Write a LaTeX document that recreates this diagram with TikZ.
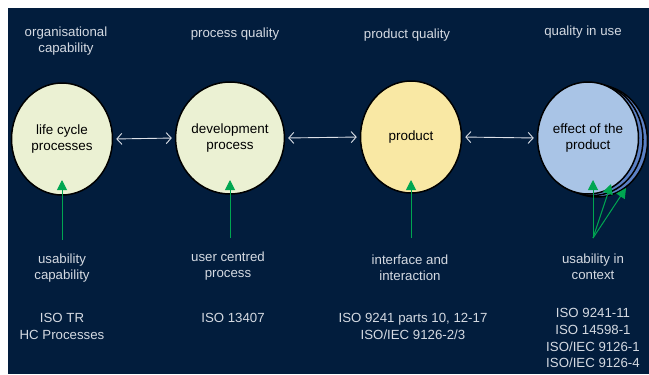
\documentclass[tikz,border=0pt]{standalone}
\usepackage{fontspec}
\setmainfont{Liberation Sans}
\usetikzlibrary{shapes.geometric,arrows.meta}
\definecolor{navy}{HTML}{021D3D}
\definecolor{lbl}{HTML}{D5DAE2}
\definecolor{pgreen}{HTML}{EBF1D3}
\definecolor{pyellow}{HTML}{F9E8A4}
\definecolor{pblue}{HTML}{A9C4E6}
\definecolor{dblue}{HTML}{5B80C4}
\definecolor{ggreen}{HTML}{00A651}
\definecolor{warr}{HTML}{DCE0E8}
\begin{document}
\begin{tikzpicture}[x=1bp,y=-1bp,
  blob/.style={ellipse,draw=black,line width=1.5bp,minimum width=101bp,minimum height=112bp,inner sep=0pt,align=center,font=\fontsize{13.5}{17}\selectfont,text=black},
  lab/.style={align=center,text=lbl,font=\fontsize{13.3}{16.5}\selectfont,inner sep=0pt},
  isol/.style={align=center,text=lbl,font=\fontsize{13.3}{17}\selectfont,inner sep=0pt},
  link/.style={draw=warr,line width=0.9bp,{Straight Barb[length=5bp,width=11bp]}-{Straight Barb[length=5bp,width=11bp]},shorten <=3bp,shorten >=3bp},
  gup/.style={draw=ggreen,line width=1bp,-{Triangle[length=10bp,width=10bp]}}]
\useasboundingbox (0,0) rectangle (649,374);
\fill[white] (0,0) rectangle (649,374);
\fill[navy] (8,8) rectangle (649,374);
% headers
\node[lab] (h1) at (66,41) {organisational\\capability};
\node[lab] (h2) at (235,34) {process quality};
\node[lab] (h3) at (407,35) {product quality};
\node[lab] (h4) at (583,32) {quality in use};
% circles
\node[blob,fill=pgreen] (c1) at (62,139) {life cycle\\processes};
\node[blob,fill=pgreen] (c2) at (230,138) {development\\process};
\node[blob,fill=pyellow] (c3) at (411,137) {product};
\node[blob,fill=dblue] (c4b) at (597,141) {};
\node[blob,fill=dblue] (c4a) at (592.5,139.5) {};
\node[blob,fill=pblue] (c4) at (588,138) {effect of the\\product};
% links
\draw[link] (c1.east) -- (c2.west);
\draw[link] (c2.east) -- (c3.west);
\draw[link] (c3.east) -- (c4.west);
% bottom labels
\node[lab] (b1) at (62,268) {usability\\capability};
\node[lab] (b2) at (228,266) {user centred\\process};
\node[lab] (b3) at (410,268) {interface and\\interaction};
\node[lab] (b4) at (593,267) {usability in\\context};
\node[isol] (s1) at (62,326.5) {ISO TR\\HC Processes};
\node[isol] (s2) at (233,318) {ISO 13407};
\node[isol] (s3) at (413,326) {ISO 9241 parts 10, 12-17\\ISO/IEC 9126-2/3};
\node[isol] (s4) at (593,338) {ISO 9241-11\\ISO 14598-1\\ISO/IEC 9126-1\\ISO/IEC 9126-4};
% green arrows
\coordinate (g1) at (62,240);  \coordinate (t1) at (62,180);
\coordinate (g2) at (230,238); \coordinate (t2) at (230,180);
\coordinate (g3) at (411,238); \coordinate (t3) at (411,180);
\coordinate (g4) at (593,238);
\coordinate (t4) at (593,180); \coordinate (t5) at (611,184); \coordinate (t6) at (626,188);
\draw[gup] (g1) -- (t1);
\draw[gup] (g2) -- (t2);
\draw[gup] (g3) -- (t3);
\draw[gup] (g4) -- (t4);
\draw[gup] (g4) -- (t5);
\draw[gup] (g4) -- (t6);
\end{tikzpicture}
\end{document}
